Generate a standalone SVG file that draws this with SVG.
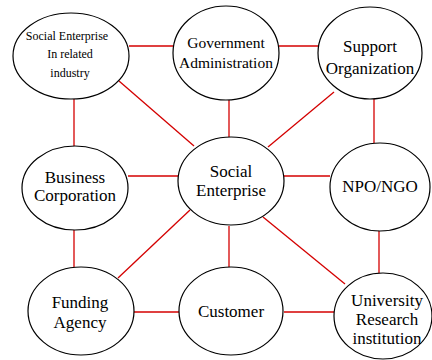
<svg xmlns="http://www.w3.org/2000/svg" width="432" height="360" viewBox="0 0 432 360">
<style>
.n ellipse{fill:#fff;stroke:#000;stroke-width:1.2}
.n text{fill:#000;text-anchor:middle}
#edges line{stroke:#d40000;stroke-width:1.3}
</style>
<rect width="432" height="360" fill="#fff"/>
<g id="edges">
<line x1="129" y1="46" x2="173" y2="46"/>
<line x1="279" y1="46" x2="318" y2="46"/>
<line x1="74" y1="99" x2="74" y2="147"/>
<line x1="119" y1="81" x2="194" y2="146"/>
<line x1="229" y1="100" x2="229" y2="137"/>
<line x1="334" y1="92" x2="268" y2="147"/>
<line x1="374" y1="99" x2="374" y2="143"/>
<line x1="128" y1="176" x2="178" y2="176"/>
<line x1="284" y1="176" x2="330" y2="176"/>
<line x1="74" y1="230" x2="74" y2="267"/>
<line x1="190" y1="210" x2="118" y2="278"/>
<line x1="229" y1="226" x2="229" y2="267"/>
<line x1="263" y1="217" x2="345" y2="284"/>
<line x1="379" y1="230" x2="379" y2="273"/>
<line x1="134" y1="312" x2="179" y2="312"/>
<line x1="284" y1="312" x2="335" y2="312"/>
</g>
<g id="se-industry" class="n">
<ellipse cx="71" cy="56" rx="58" ry="43"/>
<text x="67" y="40" font-family="Liberation Serif" font-size="12">Social Enterprise</text>
<text x="70" y="58" font-family="Liberation Serif" font-size="12">In related</text>
<text x="70" y="77" font-family="Liberation Serif" font-size="12">industry</text>
</g>
<g id="government" class="n">
<ellipse cx="226" cy="53" rx="53" ry="47"/>
<text x="226" y="48" font-family="Liberation Serif" font-size="15.5">Government</text>
<text x="226" y="68" font-family="Liberation Serif" font-size="15.5">Administration</text>
</g>
<g id="support" class="n">
<ellipse cx="370" cy="53" rx="52" ry="46"/>
<text x="370" y="52" font-family="Liberation Serif" font-size="17">Support</text>
<text x="370" y="74" font-family="Liberation Serif" font-size="17">Organization</text>
</g>
<g id="business" class="n">
<ellipse cx="75" cy="188" rx="53" ry="42"/>
<text x="75" y="183" font-family="Liberation Serif" font-size="17">Business</text>
<text x="75" y="201" font-family="Liberation Serif" font-size="17">Corporation</text>
</g>
<g id="social" class="n">
<ellipse cx="231" cy="181" rx="53" ry="44"/>
<text x="231" y="177" font-family="Liberation Serif" font-size="17">Social</text>
<text x="231" y="196" font-family="Liberation Serif" font-size="17">Enterprise</text>
</g>
<g id="npo" class="n">
<ellipse cx="380" cy="187" rx="50" ry="44"/>
<text x="380" y="192" font-family="Liberation Serif" font-size="17">NPO/NGO</text>
</g>
<g id="funding" class="n">
<ellipse cx="81" cy="311" rx="53" ry="44"/>
<text x="80" y="308" font-family="Liberation Serif" font-size="17">Funding</text>
<text x="80" y="328" font-family="Liberation Serif" font-size="17">Agency</text>
</g>
<g id="customer" class="n">
<ellipse cx="231" cy="311" rx="52" ry="44"/>
<text x="231" y="317" font-family="Liberation Serif" font-size="17">Customer</text>
</g>
<g id="university" class="n">
<ellipse cx="383" cy="316" rx="49" ry="43"/>
<text x="387" y="306" font-family="Liberation Serif" font-size="17">University</text>
<text x="387" y="325" font-family="Liberation Serif" font-size="17">Research</text>
<text x="387" y="344" font-family="Liberation Serif" font-size="17">institution</text>
</g>
</svg>
